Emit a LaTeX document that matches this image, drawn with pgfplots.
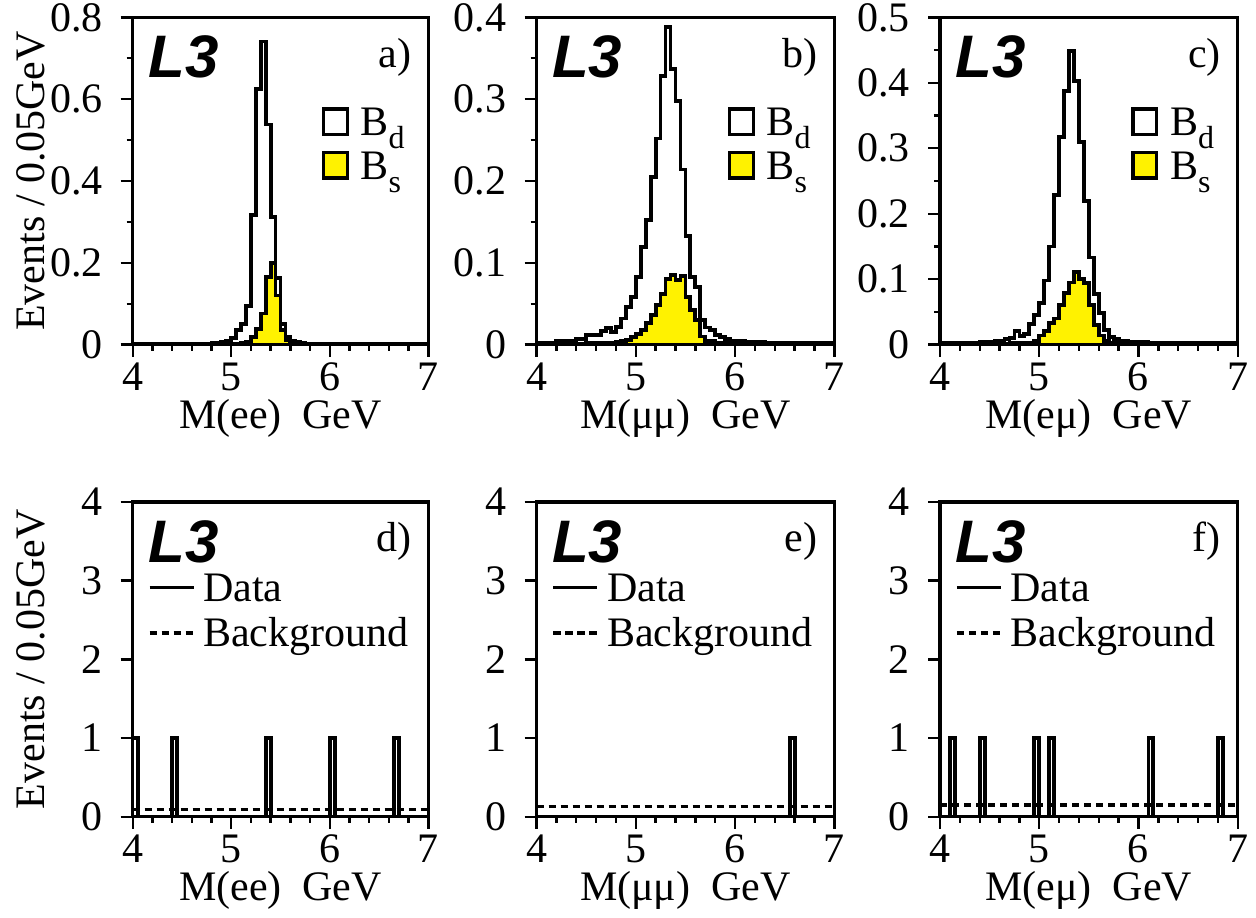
\documentclass[border=0pt]{standalone}
\usepackage{fontspec}
\setmainfont{Liberation Serif}
\setsansfont{Liberation Sans}
\usepackage{pgfplots}
\pgfplotsset{compat=1.18}
\newcommand{\sub}[1]{\raisebox{-0.3em}{\fontsize{16}{16}\selectfont #1}}
\newcommand{\Lthree}{{\fontsize{30}{30}\selectfont\sffamily\bfseries\itshape L3}}
\pgfplotsset{
  /pgf/number format/assume math mode=true,
  panel/.style={
    scale only axis, anchor=south west,
    font=\fontsize{21}{25}\selectfont,
    xmin=4, xmax=7, xtick={4,5,6,7}, minor x tick num=4,
    ymin=0,
    tick align=outside, tick pos=left,
    major tick length=6pt, minor tick length=3pt,
    every tick/.style={black, line width=1.2pt},
    axis line style={line width=1.7pt},
    axis on top,
    xticklabel style={anchor=base, inner sep=0pt, yshift=-16.85pt},
    yticklabel style={anchor=east, inner sep=0pt, xshift=-8.85pt},
    xlabel style={at={([yshift=-41.85pt]axis description cs:0.5,0)}, anchor=base, inner sep=0pt},
    ylabel style={at={([xshift=-44pt]axis description cs:0,0.5)}, anchor=base, inner sep=0pt},
    legend style={draw=none, fill=none, inner sep=0pt, outer sep=0pt,
      font=\fontsize{21}{25}\selectfont, nodes={inner sep=0pt, anchor=base west},
      /tikz/every odd column/.append style={column sep=5.85pt}},
    legend cell align=left,
  },
  toprow/.style={panel, height=163.6pt,
    legend style={at={(1,1)}, anchor=north west, xshift=-53.3pt, yshift=-45pt, row sep=6pt},
    legend image code/.code={\draw[##1, line width=1.7pt] (0.8pt,0.8pt) rectangle (12.7pt,13.4pt);},
  },
  botrow/.style={panel, height=157.4pt, ymax=4, ytick={0,1,2,3,4},
    legend style={at={(0,1)}, anchor=north west, xshift=7.5pt, yshift=-36pt, row sep=6.7pt,
      /tikz/every odd column/.append style={column sep=4pt}},
    legend image code/.code={\draw[##1, line width=1.8pt] (0pt,7pt) -- (22pt,7pt);},
  },
  hist/.style={forget plot, const plot mark left, draw=black, line width=1.9pt, line join=miter},
  bg/.style={forget plot, draw=black, line width=1.8pt, dash pattern=on 3.6pt off 2.4pt},
}
\begin{document}
\begin{tikzpicture}
\useasboundingbox (0,0) rectangle (628pt,458.5pt);
% ---------------- a)
\begin{axis}[toprow, at={(66.35pt,286.2pt)}, width=147.8pt, ymax=0.8,
  ytick={0,0.2,0.4,0.6,0.8}, minor y tick num=1,
  ylabel={Events / 0.05GeV}, xlabel={M(ee)~~GeV}]
\addplot[hist, fill=yellow] coordinates {(4.00,0.0005) (5.10,0.003) (5.15,0.007) (5.20,0.019) (5.25,0.039) (5.30,0.076) (5.35,0.165) (5.40,0.200) (5.45,0.120) (5.50,0.035) (5.55,0.010) (5.60,0.004) (5.65,0.002) (5.70,0.0005) (7.00,0.0005)} \closedcycle;
\addplot[hist] coordinates {(4.00,0.001) (4.70,0.002) (4.80,0.003) (4.85,0.004) (4.90,0.006) (4.95,0.010) (5.00,0.016) (5.05,0.035) (5.10,0.050) (5.15,0.094) (5.20,0.316) (5.25,0.625) (5.30,0.741) (5.35,0.538) (5.40,0.312) (5.45,0.163) (5.50,0.051) (5.55,0.019) (5.60,0.010) (5.65,0.006) (5.70,0.003) (5.75,0.002) (6.00,0.001) (7.00,0.001)};
\addlegendimage{draw=black, fill=white}\addlegendentry{B\sub{d}}
\addlegendimage{draw=black, fill=yellow}\addlegendentry{B\sub{s}}
\node[anchor=base west, inner sep=0pt] at ([xshift=7.65pt,yshift=-30.15pt]rel axis cs:0,1) {\Lthree};
\node[anchor=base east, inner sep=0pt] at ([xshift=-8.3pt,yshift=-25pt]rel axis cs:1,1) {a)};
\end{axis}
% ---------------- b)
\begin{axis}[toprow, at={(268.25pt,286.2pt)}, width=148.9pt, ymax=0.4,
  ytick={0,0.1,0.2,0.3,0.4}, minor y tick num=1,
  xlabel={M(μμ)~~GeV}]
\addplot[hist, fill=yellow] coordinates {(4.00,0.001) (4.50,0.002) (4.80,0.003) (4.85,0.004) (4.90,0.006) (4.95,0.009) (5.00,0.013) (5.05,0.018) (5.10,0.026) (5.15,0.036) (5.20,0.048) (5.25,0.062) (5.30,0.080) (5.35,0.085) (5.40,0.079) (5.45,0.084) (5.50,0.058) (5.55,0.042) (5.60,0.030) (5.65,0.010) (5.70,0.004) (5.80,0.002) (6.00,0.001) (7.00,0.001)} \closedcycle;
\addplot[hist] coordinates {(4.00,0.002) (4.20,0.004) (4.40,0.007) (4.50,0.012) (4.65,0.017) (4.70,0.020) (4.75,0.015) (4.80,0.022) (4.85,0.032) (4.90,0.046) (4.95,0.058) (5.00,0.083) (5.05,0.119) (5.10,0.152) (5.15,0.205) (5.20,0.252) (5.25,0.328) (5.30,0.388) (5.35,0.337) (5.40,0.298) (5.45,0.214) (5.50,0.133) (5.55,0.083) (5.60,0.070) (5.65,0.030) (5.70,0.021) (5.75,0.018) (5.80,0.012) (5.85,0.009) (5.90,0.007) (5.95,0.005) (6.10,0.003) (6.30,0.002) (6.50,0.0015) (7.00,0.0015)};
\addlegendimage{draw=black, fill=white}\addlegendentry{B\sub{d}}
\addlegendimage{draw=black, fill=yellow}\addlegendentry{B\sub{s}}
\node[anchor=base west, inner sep=0pt] at ([xshift=7.65pt,yshift=-30.15pt]rel axis cs:0,1) {\Lthree};
\node[anchor=base east, inner sep=0pt] at ([xshift=-8.3pt,yshift=-25pt]rel axis cs:1,1) {b)};
\end{axis}
% ---------------- c)
\begin{axis}[toprow, at={(470pt,286.2pt)}, width=148.85pt, ymax=0.5,
  ytick={0,0.1,0.2,0.3,0.4,0.5}, minor y tick num=1,
  xlabel={M(eμ)~~GeV}]
\addplot[hist, fill=yellow] coordinates {(4.00,0.001) (4.70,0.002) (4.90,0.003) (4.95,0.006) (5.00,0.014) (5.05,0.021) (5.10,0.033) (5.15,0.040) (5.20,0.061) (5.25,0.079) (5.30,0.095) (5.35,0.111) (5.40,0.100) (5.45,0.094) (5.50,0.061) (5.55,0.030) (5.60,0.014) (5.65,0.006) (5.70,0.003) (5.80,0.002) (6.00,0.001) (7.00,0.001)} \closedcycle;
\addplot[hist] coordinates {(4.00,0.002) (4.20,0.003) (4.40,0.004) (4.55,0.006) (4.65,0.008) (4.70,0.010) (4.75,0.021) (4.80,0.013) (4.85,0.016) (4.90,0.031) (4.95,0.045) (5.00,0.064) (5.05,0.098) (5.10,0.150) (5.15,0.229) (5.20,0.317) (5.25,0.387) (5.30,0.449) (5.35,0.403) (5.40,0.309) (5.45,0.219) (5.50,0.133) (5.55,0.077) (5.60,0.048) (5.65,0.022) (5.70,0.012) (5.75,0.009) (5.80,0.006) (5.90,0.004) (6.10,0.003) (6.40,0.002) (7.00,0.002)};
\addlegendimage{draw=black, fill=white}\addlegendentry{B\sub{d}}
\addlegendimage{draw=black, fill=yellow}\addlegendentry{B\sub{s}}
\node[anchor=base west, inner sep=0pt] at ([xshift=7.65pt,yshift=-30.15pt]rel axis cs:0,1) {\Lthree};
\node[anchor=base east, inner sep=0pt] at ([xshift=-8.3pt,yshift=-25pt]rel axis cs:1,1) {c)};
\end{axis}
% ---------------- d)
\begin{axis}[botrow, at={(66.35pt,50.15pt)}, width=147.8pt,
  ylabel={Events / 0.05GeV}, xlabel={M(ee)~~GeV}]
\addplot[hist] coordinates {(4.00,1) (4.05,0) (4.40,1) (4.45,0) (5.35,1) (5.40,0) (6.00,1) (6.05,0) (6.65,1) (6.70,0) (7.00,0)};
\addplot[bg] coordinates {(4,0.094) (7,0.094)};
\addlegendimage{draw=black}\addlegendentry{Data}
\addlegendimage{draw=black, dash pattern=on 3.6pt off 2.4pt}\addlegendentry{Background}
\node[anchor=base west, inner sep=0pt] at ([xshift=7.65pt,yshift=-30.15pt]rel axis cs:0,1) {\Lthree};
\node[anchor=base east, inner sep=0pt] at ([xshift=-8.3pt,yshift=-25pt]rel axis cs:1,1) {d)};
\end{axis}
% ---------------- e)
\begin{axis}[botrow, at={(268.25pt,50.15pt)}, width=148.9pt,
  xlabel={M(μμ)~~GeV}]
\addplot[hist] coordinates {(4.00,0) (6.55,1) (6.60,0) (7.00,0)};
\addplot[bg] coordinates {(4,0.13) (7,0.13)};
\addlegendimage{draw=black}\addlegendentry{Data}
\addlegendimage{draw=black, dash pattern=on 3.6pt off 2.4pt}\addlegendentry{Background}
\node[anchor=base west, inner sep=0pt] at ([xshift=7.65pt,yshift=-30.15pt]rel axis cs:0,1) {\Lthree};
\node[anchor=base east, inner sep=0pt] at ([xshift=-8.3pt,yshift=-25pt]rel axis cs:1,1) {e)};
\end{axis}
% ---------------- f)
\begin{axis}[botrow, at={(470pt,50.15pt)}, width=148.85pt,
  xlabel={M(eμ)~~GeV}]
\addplot[hist] coordinates {(4.00,0) (4.10,1) (4.15,0) (4.40,1) (4.45,0) (4.95,1) (5.00,0) (5.10,1) (5.15,0) (6.10,1) (6.15,0) (6.80,1) (6.85,0) (7.00,0)};
\addplot[bg] coordinates {(4,0.148) (7,0.148)};
\addlegendimage{draw=black}\addlegendentry{Data}
\addlegendimage{draw=black, dash pattern=on 3.6pt off 2.4pt}\addlegendentry{Background}
\node[anchor=base west, inner sep=0pt] at ([xshift=7.65pt,yshift=-30.15pt]rel axis cs:0,1) {\Lthree};
\node[anchor=base east, inner sep=0pt] at ([xshift=-8.3pt,yshift=-25pt]rel axis cs:1,1) {f)};
\end{axis}
\end{tikzpicture}
\end{document}
